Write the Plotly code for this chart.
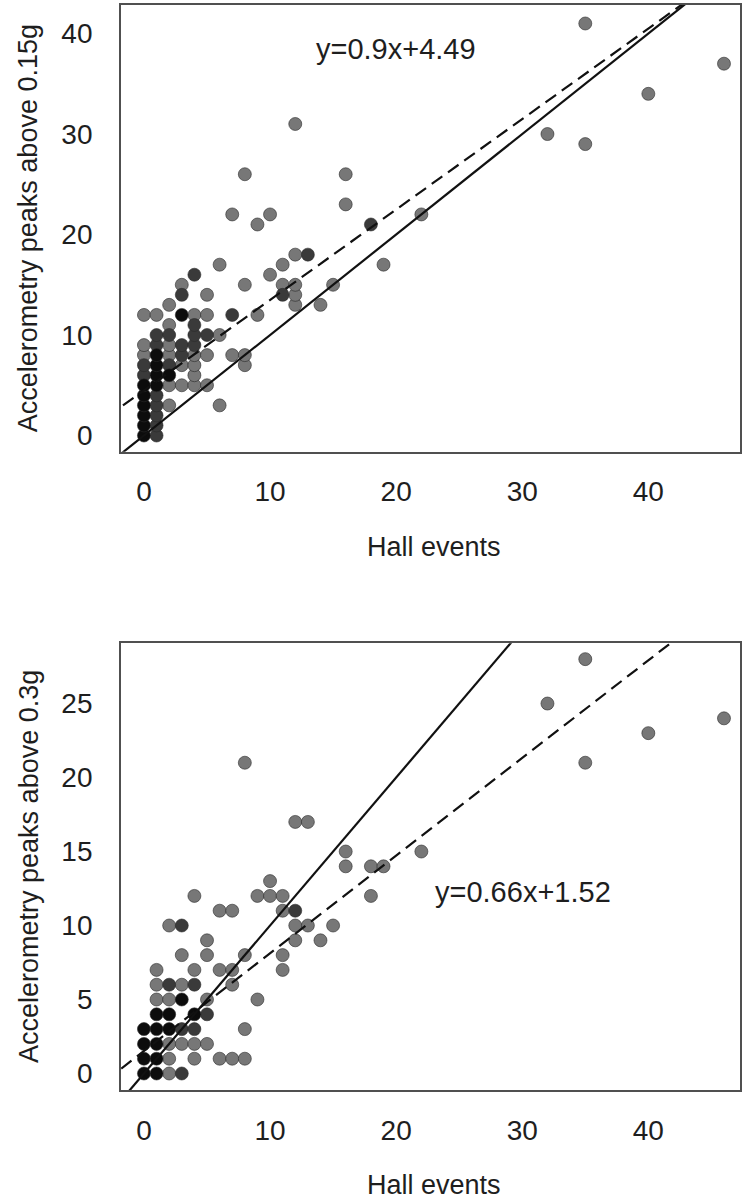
import plotly.graph_objects as go
from plotly.subplots import make_subplots

# ---------------- data: top panel (peaks above 0.15g) ----------------
top_x = [0, 1, 0, 1, 0, 1, 0, 1, 2, 6, 0, 1,
         0, 1, 2, 3, 4, 5, 0, 1, 2, 4,
         0, 1, 2, 3, 4, 8, 0, 1, 2, 3, 4, 5, 7, 8,
         0, 1, 2, 3, 4, 1, 2, 4, 5, 6, 2, 4,
         0, 1, 3, 4, 5, 7, 9, 2, 12, 14,
         3, 5, 11, 12, 3, 8, 11, 12, 15, 4, 10,
         6, 11, 19, 12, 13, 9, 18, 7, 10, 22, 16, 8, 16, 12,
         32, 35, 40, 35, 46]
top_y = [0, 0, 1, 1, 2, 2, 3, 3, 3, 3, 4, 4,
         5, 5, 5, 5, 5, 5, 6, 6, 6, 6,
         7, 7, 7, 7, 7, 7, 8, 8, 8, 8, 8, 8, 8, 8,
         9, 9, 9, 9, 9, 10, 10, 10, 10, 10, 11, 11,
         12, 12, 12, 12, 12, 12, 12, 13, 13, 13,
         14, 14, 14, 14, 15, 15, 15, 15, 15, 16, 16,
         17, 17, 17, 18, 18, 21, 21, 22, 22, 22, 23, 26, 26, 31,
         30, 29, 34, 41, 37]
top_n = [3, 2, 3, 2, 3, 2, 3, 2, 1, 1, 3, 2,
         3, 3, 1, 1, 1, 1, 2, 3, 3, 1,
         2, 3, 2, 1, 1, 1, 1, 3, 1, 2, 1, 1, 1, 1,
         1, 2, 1, 2, 2, 2, 2, 2, 2, 1, 1, 2,
         1, 1, 3, 1, 1, 2, 1, 1, 1, 1,
         2, 1, 2, 1, 1, 1, 1, 1, 1, 2, 1,
         1, 1, 1, 1, 2, 1, 2, 1, 1, 1, 1, 1, 1, 1,
         1, 1, 1, 1, 1]
top_slope, top_intercept = 0.9, 4.49
top_label = "y=0.9x+4.49"

# ---------------- data: bottom panel (peaks above 0.3g) ----------------
bot_x = [0, 1, 2, 3, 0, 1, 2, 4, 6, 7, 8,
         0, 1, 2, 3, 4, 5, 0, 1, 2, 3, 4, 8,
         1, 2, 4, 5, 1, 2, 3, 5, 9, 1, 2, 3, 4, 7,
         1, 4, 6, 7, 11, 3, 5, 8, 11, 5, 12, 14,
         2, 3, 12, 13, 15, 6, 7, 11, 12,
         4, 9, 10, 11, 18, 10, 16, 18, 19, 16, 22, 12, 13, 8, 35,
         32, 35, 40, 46]
bot_y = [0, 0, 0, 0, 1, 1, 1, 1, 1, 1, 1,
         2, 2, 2, 2, 2, 2, 3, 3, 3, 3, 3, 3,
         4, 4, 4, 4, 5, 5, 5, 5, 5, 6, 6, 6, 6, 6,
         7, 7, 7, 7, 7, 8, 8, 8, 8, 9, 9, 9,
         10, 10, 10, 10, 10, 11, 11, 11, 11,
         12, 12, 12, 12, 12, 13, 14, 14, 14, 15, 15, 17, 17, 21, 21,
         25, 28, 23, 24]
bot_n = [3, 3, 1, 2, 3, 3, 1, 1, 1, 1, 1,
         3, 3, 1, 1, 1, 1, 3, 3, 3, 2, 2, 1,
         3, 3, 3, 2, 1, 1, 3, 1, 1, 1, 2, 1, 2, 1,
         1, 1, 1, 1, 1, 1, 1, 1, 1, 1, 1, 1,
         1, 2, 1, 1, 1, 1, 1, 1, 2,
         1, 1, 1, 1, 1, 1, 1, 1, 1, 1, 1, 1, 1, 1, 1,
         1, 1, 1, 1]
bot_slope, bot_intercept = 0.66, 1.52
bot_label = "y=0.66x+1.52"

x_ticks = [0, 10, 20, 30, 40]
top_y_ticks = [0, 10, 20, 30, 40]
bot_y_ticks = [0, 5, 10, 15, 20, 25]
x_title = "Hall events"
top_y_title = "Accelerometry peaks above 0.15g"
bot_y_title = "Accelerometry peaks above 0.3g"

# ---------------- styling ----------------
FONT = "Liberation Sans, Arial, sans-serif"
TXT = "#1e1e1e"
shade = {1: "#777777", 2: "#3a3a3a", 3: "#0c0c0c"}
line_fit = dict(color="#111111", width=2.2, dash="13px,7px")
line_id = dict(color="#111111", width=2.2)

fig = make_subplots(rows=2, cols=1, vertical_spacing=0.1766)

def add_panel(xs, ys, ns, slope, intercept, row, xr, yr):
    order = sorted(range(len(xs)), key=lambda i: ns[i])
    fig.add_trace(go.Scatter(
        x=[xs[i] for i in order], y=[ys[i] for i in order], mode="markers",
        marker=dict(size=13, color=[shade[ns[i]] for i in order],
                    line=dict(width=0.6, color="#2a2a2a")),
        showlegend=False, hoverinfo="x+y"), row=row, col=1)
    lx = [xr[0] - 5, xr[1] + 5]
    fig.add_trace(go.Scatter(x=lx, y=[slope * v + intercept for v in lx], mode="lines",
                             line=line_fit, showlegend=False, hoverinfo="skip"), row=row, col=1)
    fig.add_trace(go.Scatter(x=lx, y=lx, mode="lines", line=line_id,
                             showlegend=False, hoverinfo="skip"), row=row, col=1)

top_xr = [-1.82, 47.27]
top_yr = [-1.61, 42.84]
bot_xr = [-1.82, 47.27]
bot_yr = [-1.115, 29.07]

add_panel(top_x, top_y, top_n, top_slope, top_intercept, 1, top_xr, top_yr)
add_panel(bot_x, bot_y, bot_n, bot_slope, bot_intercept, 2, bot_xr, bot_yr)

axis_common = dict(showgrid=False, zeroline=False, showline=True, mirror=True,
                   linecolor="#505050", linewidth=1.8, ticks="",
                   tickfont=dict(family=FONT, size=28, color=TXT))

fig.update_xaxes(**axis_common, tickvals=x_ticks, ticklabelstandoff=14)
fig.update_yaxes(**axis_common, ticklabelstandoff=21)
fig.update_xaxes(range=top_xr, domain=[0, 1], row=1, col=1)
fig.update_xaxes(range=bot_xr, domain=[0, 1], row=2, col=1)
fig.update_yaxes(range=top_yr, tickvals=top_y_ticks, domain=[0.5883, 1.0], row=1, col=1)
fig.update_yaxes(range=bot_yr, tickvals=bot_y_ticks, domain=[0.0, 0.4117], row=2, col=1)

ann_font = dict(family=FONT, size=27, color=TXT)
annotations = [
    dict(text=top_label, x=20.0, y=38.5, xref="x", yref="y", showarrow=False,
         font=dict(family=FONT, size=29, color=TXT)),
    dict(text=bot_label, x=30.05, y=12.26, xref="x2", yref="y2", showarrow=False,
         font=dict(family=FONT, size=29, color=TXT)),
    dict(text=x_title, x=0.506, y=0.5005, xref="paper", yref="paper", showarrow=False,
         xanchor="center", yanchor="middle", font=ann_font),
    dict(text=x_title, x=0.506, y=-0.0876, xref="paper", yref="paper", showarrow=False,
         xanchor="center", yanchor="middle", font=ann_font),
    dict(text=top_y_title, x=-0.1498, y=0.7945, xref="paper", yref="paper", showarrow=False,
         textangle=-90, xanchor="center", yanchor="middle", font=ann_font),
    dict(text=bot_y_title, x=-0.1498, y=0.2058, xref="paper", yref="paper", showarrow=False,
         textangle=-90, xanchor="center", yanchor="middle", font=ann_font),
]

fig.update_layout(width=743, height=1199, margin=dict(l=121, r=1, t=5, b=109),
                  paper_bgcolor="white", plot_bgcolor="white",
                  font=dict(family=FONT, color=TXT), annotations=annotations)

fig.write_html("out.html", config={"displayModeBar": False},
               post_script="document.body.style.margin='0';document.body.style.overflow='hidden';")
